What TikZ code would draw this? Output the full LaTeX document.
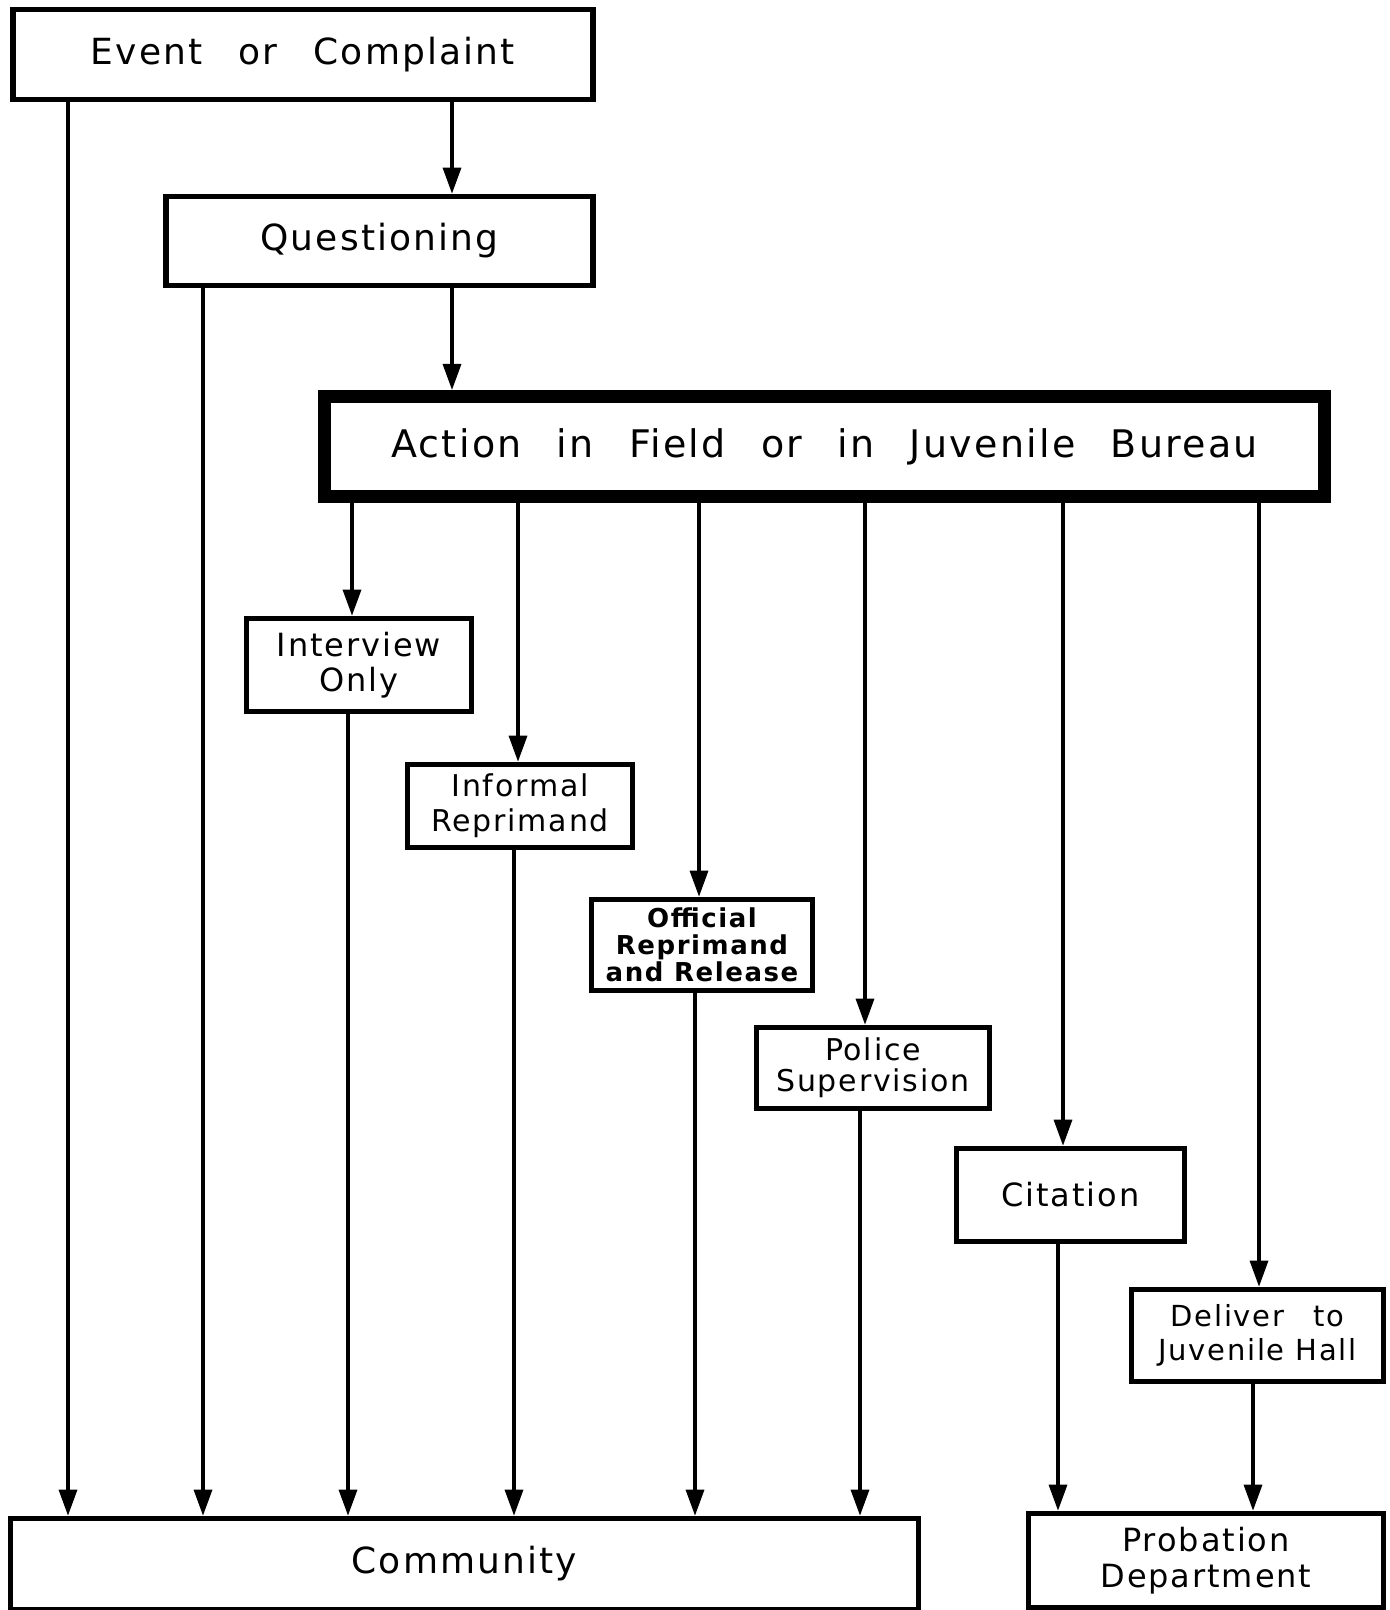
\documentclass[tikz,border=0pt]{standalone}
\usepackage{fontspec}
\setmainfont{DejaVu Sans}[LetterSpace=6]
\usetikzlibrary{arrows.meta}

\begin{document}
\begin{tikzpicture}[
  x=0.5pt, y=-0.5pt,
  stage/.style={
    rectangle,
    draw,
    line width=2.8pt,
    align=center,
    inner sep=0pt
  },
  flow/.style={
    line width=1.6pt,
    -{Triangle[length=13pt,width=9pt]}
  }
]
\useasboundingbox (0,0) rectangle (1390,1610);

\node (event) [stage, minimum width=290pt, minimum height=45pt,
  font=\fontsize{18}{22}\selectfont] at (303,54.5)
  {Event\quad or\quad Complaint};
\node (quest) [stage, minimum width=213.5pt, minimum height=44.5pt,
  font=\fontsize{18}{22}\selectfont] at (379.5,241) {Questioning};
\node (action) [stage, line width=6.5pt, minimum width=500pt, minimum height=50pt,
  font=\fontsize{19}{23}\selectfont] at (824.5,446.5)
  {Action\hspace{0.55em} in\hspace{0.55em} Field\hspace{0.55em} or\hspace{0.55em}
   in\hspace{0.55em} Juvenile\hspace{0.55em} Bureau};

\node (interview) [stage, minimum width=112.5pt, minimum height=46.5pt,
  font=\fontsize{16}{17.5}\selectfont] at (359,665) {Interview\\Only};
\node (informal) [stage, minimum width=112.5pt, minimum height=41.5pt,
  font=\fontsize{15}{17.5}\selectfont] at (520,806) {Informal\\Reprimand};
\node (official) [stage, minimum width=110.5pt, minimum height=45.5pt,
  font=\bfseries\fontsize{13}{13.5}\selectfont] at (702,945)
  {Official\\Reprimand\\and Release};
\node (police) [stage, minimum width=116.5pt, minimum height=40.5pt,
  font=\fontsize{15}{15.5}\selectfont] at (873,1068) {Police\\Supervision};
\node (citation) [stage, minimum width=114pt, minimum height=46.5pt,
  font=\fontsize{16}{18}\selectfont] at (1070.5,1195) {Citation};
\node (deliver) [stage, minimum width=126pt, minimum height=46pt,
  font=\fontsize{14.5}{17}\selectfont] at (1257.5,1335.5)
  {Deliver\quad to\\Juvenile Hall};

\node (community) [stage, minimum width=454pt, minimum height=45.5pt,
  font=\fontsize{18}{22}\selectfont] at (464.5,1564) {Community};
\node (probation) [stage, minimum width=177.5pt, minimum height=47pt,
  font=\fontsize{16}{18}\selectfont] at (1206,1560.5) {Probation\\Department};

% flow lines, one column each
\foreach \src/\dst/\col in {
  event/quest/452, event/community/68,
  quest/action/452, quest/community/203,
  action/interview/352, interview/community/348,
  action/informal/518, informal/community/514,
  action/official/699, official/community/695,
  action/police/865, police/community/860,
  action/citation/1063, citation/probation/1058,
  action/deliver/1259, deliver/probation/1253}
  \draw[flow] (\src.south -| \col,0) -- (\dst.north -| \col,0);
\end{tikzpicture}
\end{document}
